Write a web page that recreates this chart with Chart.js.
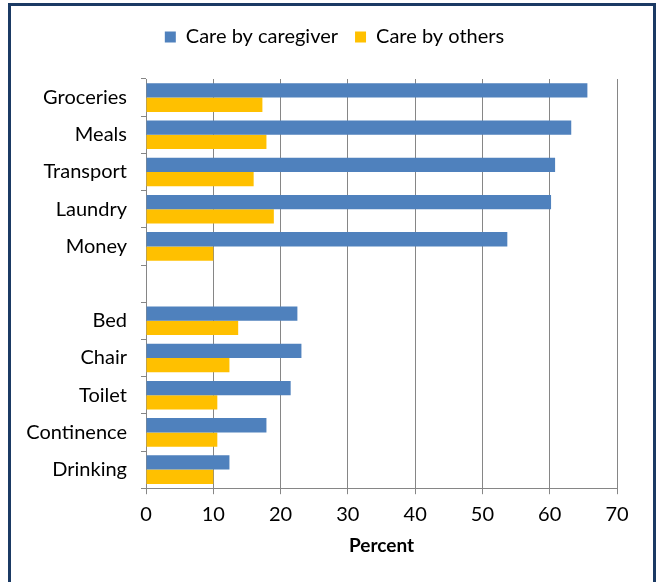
<!DOCTYPE html>
<html>
<head>
<meta charset="utf-8">
<script src="https://cdn.jsdelivr.net/npm/chart.js@4/dist/chart.umd.min.js"></script>
<style>
    html, body { margin: 0; padding: 0; background: #fff; overflow: hidden; }
    #frame {
        position: absolute; left: 8px; top: 3px; width: 648px; height: 600px;
        border: 3px solid #1b3a64; box-sizing: border-box;
    }
    #wrap { position: absolute; left: 0; top: 0; width: 656px; height: 582px; }
</style>
</head>
<body>
<div id="frame"></div>
<div id="wrap"><canvas id="graph"></canvas></div>
<script>
var categories = ['Groceries', 'Meals', 'Transport', 'Laundry', 'Money', '', 'Bed', 'Chair', 'Toilet', 'Continence', 'Drinking'];
var caregiver = [65.6, 63.2, 60.8, 60.2, 53.7, null, 22.5, 23.1, 21.5, 17.9, 12.4];
var others = [17.3, 17.9, 16.0, 19.0, 10.0, null, 13.7, 12.4, 10.6, 10.6, 10.0];
var xTicks = [0, 10, 20, 30, 40, 50, 60, 70];
var colors = ['#4f81bd', '#ffc000'];
var font = 'Lato, Carlito, Calibri, sans-serif';

var ctx = document.getElementById('graph').getContext('2d');
Chart.defaults.font.family = font;
Chart.defaults.color = '#000';

// more room under the legend, and legend nudged right over the bars
var legendTweak = {
    id: 'legendTweak',
    beforeInit: function(chart){
        var legend = chart.legend;
        var fit = legend.fit;
        legend.fit = function(){
            fit.call(this);
            this.height += 22;
        };
        var draw = legend.draw;
        legend.draw = function(){
            var c = this.ctx;
            c.save();
            c.translate(26, 0);
            draw.call(this);
            c.restore();
        };
    }
};

var chart = new Chart(ctx, {
    type: 'bar',
    data: {
        labels: categories,
        datasets: [
            {label: 'Care by caregiver', data: caregiver, backgroundColor: colors[0]},
            {label: 'Care by others', data: others, backgroundColor: colors[1]}
        ]
    },
    options: {
        indexAxis: 'y',
        responsive: true,
        maintainAspectRatio: false,
        animation: false,
        categoryPercentage: 0.77,
        barPercentage: 1.0,
        layout: {padding: {left: 0, right: 39, top: 10, bottom: 21}},
        plugins: {
            tooltip: {enabled: false},
            legend: {
                position: 'top',
                labels: {
                    boxWidth: 11,
                    boxHeight: 11,
                    padding: 17,
                    font: {size: 20}
                }
            }
        },
        scales: {
            x: {
                min: 0,
                max: 70,
                afterBuildTicks: function(axis){
                    axis.ticks = xTicks.map(function(v){ return {value: v}; });
                },
                border: {color: '#868686', width: 1},
                grid: {color: '#868686', lineWidth: 1, tickLength: 6},
                ticks: {font: {size: 20}, padding: 8},
                title: {display: true, text: 'Percent', font: {size: 19, weight: 'bold'}, padding: {top: 0}}
            },
            y: {
                border: {color: '#868686', width: 1},
                grid: {drawOnChartArea: false, color: '#868686', tickLength: 5, offset: true},
                ticks: {font: {size: 20}, padding: 14},
                afterFit: function(axis){ axis.width = 146; }
            }
        }
    },
    plugins: [legendTweak]
});
</script>
</body>
</html>
